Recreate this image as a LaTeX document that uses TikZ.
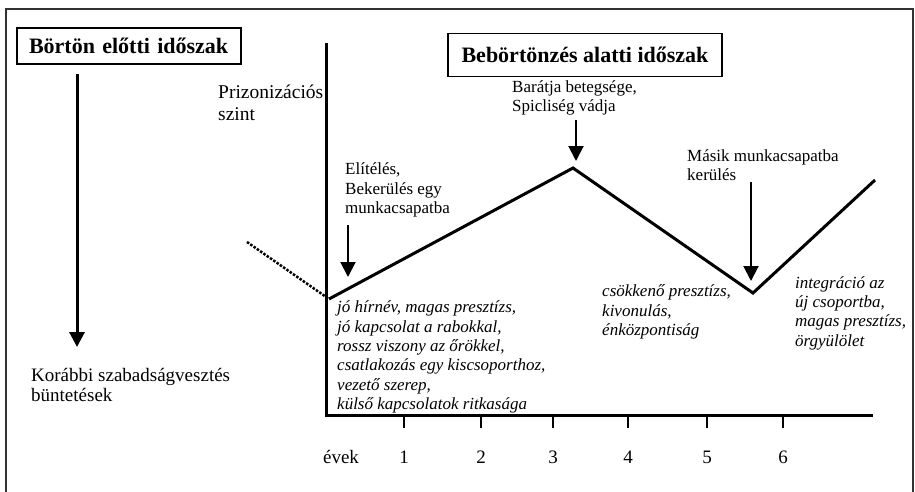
\documentclass[tikz,border=0pt]{standalone}
\usepackage{fontspec}
\setmainfont{Liberation Serif}
\usetikzlibrary{arrows.meta}
\begin{document}
\begin{tikzpicture}[x=1pt,y=-1pt,
  annot/.style={font=\fontsize{17}{19.5}\selectfont, align=left, anchor=west, inner sep=0pt},
  big/.style={font=\fontsize{19}{20.5}\selectfont, align=left, anchor=west, inner sep=0pt},
  ital/.style={font=\fontsize{17}{19.3}\selectfont\itshape, align=left, anchor=west, inner sep=0pt},
  numlab/.style={font=\fontsize{19}{20.5}\selectfont, inner sep=0pt},
  titlebox/.style={draw, line width=1.2pt, font=\fontsize{22}{24}\selectfont\bfseries, inner ysep=0pt},
  axisline/.style={line width=3pt},
  curve/.style={line width=3pt, line join=miter},
  dots/.style={line width=2.5pt, dash pattern=on 2.5pt off 1.5pt},
  pointer/.style={line width=2pt, -{Triangle[length=15pt,width=15pt]}},
  tickmark/.style={line width=2.5pt}]

\useasboundingbox (0,0) rectangle (915,491);
\draw[line width=1.5pt, black!80] (6,9) rectangle (913,500);

% title boxes
\node[titlebox, text width=200pt, inner xsep=12pt, align=left, minimum height=36pt] (pre) at (129,46) {Börtön előtti időszak};
\node[titlebox, inner xsep=0pt, minimum width=274pt, minimum height=43pt] (during) at (585,55) {Bebörtönzés alatti időszak};

% left arrow
\coordinate (la) at (77,74);
\coordinate (lb) at (77,347);
\draw[pointer, line width=3pt] (la) -- (lb);
\node[big] (prev) at (31,385) {Korábbi szabadságvesztés\\büntetések};

% axes
\coordinate (ytop) at (326,43);
\coordinate (orig) at (326,415);
\coordinate (xend) at (873,415);
\draw[axisline] (ytop) -- (orig) -- (xend);
\node[big, font=\fontsize{19.5}{22.5}\selectfont] (ylab) at (218,103) {Prizonizációs\\szint};

% ticks and year labels
\node[numlab] (evek) at (341,457) {évek};
\foreach \i/\x in {1/404,2/481,3/553,4/628,5/707,6/783}{
  \coordinate (t\i) at (\x,415);
  \coordinate (tb\i) at (\x,428);
  \draw[tickmark] (t\i) -- (tb\i);
  \node[numlab] (n\i) at (\x,457) {\i};
}

% curve
\coordinate (d0) at (247,242);
\coordinate (c0) at (329,299);
\coordinate (c1) at (573,168);
\coordinate (c2) at (753,293);
\coordinate (c3) at (875,180);
\draw[dots] (d0) -- (c0);
\draw[curve] (c0) -- (c1) -- (c2) -- (c3);

% event annotations
\node[annot] (e1) at (345,190) {Elítélés,\\Bekerülés egy\\munkacsapatba};
\coordinate (a1s) at (348,225);
\coordinate (a1e) at (348,277);
\draw[pointer] (a1s) -- (a1e);

\node[annot] (e2) at (512,98) {Barátja betegsége,\\Spicliség vádja};
\coordinate (a2s) at (576,120);
\coordinate (a2e) at (576,161);
\draw[pointer] (a2s) -- (a2e);

\node[annot] (e3) at (687,165) {Másik munkacsapatba\\kerülés};
\coordinate (a3s) at (751,182);
\coordinate (a3e) at (751,281);
\draw[pointer] (a3s) -- (a3e);

% italic descriptions
\node[ital] (s1) at (337,357) {jó hírnév, magas presztízs,\\jó kapcsolat a rabokkal,\\rossz viszony az őrökkel,\\csatlakozás egy kiscsoporthoz,\\vezető szerep,\\külső kapcsolatok ritkasága};
\node[ital] (s2) at (602,312) {csökkenő presztízs,\\kivonulás,\\énközpontiság};
\node[ital] (s3) at (795,313) {integráció az\\új csoportba,\\magas presztízs,\\örgyülölet};
\end{tikzpicture}
\end{document}
